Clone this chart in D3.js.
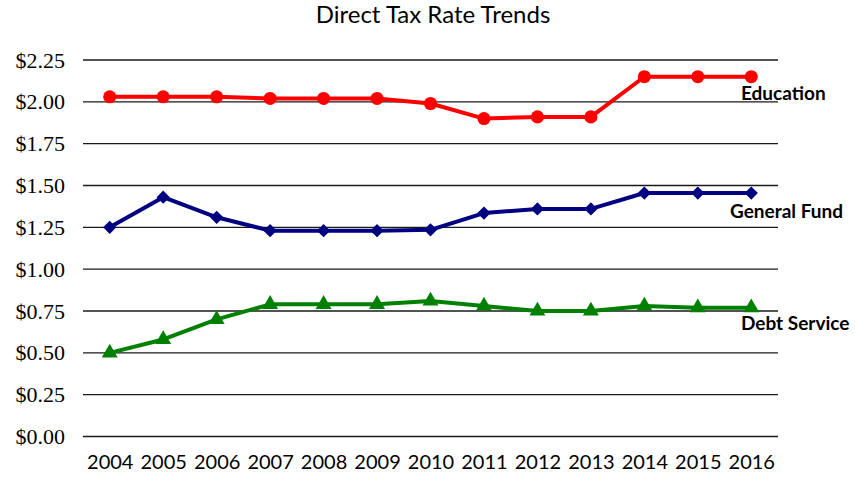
<!DOCTYPE html>
<html>
<head>
<meta charset="utf-8">
<script src="https://cdn.jsdelivr.net/npm/d3@7/dist/d3.min.js"></script>
<style>
  html, body { margin: 0; padding: 0; background: #fff; }
  svg { display: block; }
</style>
</head>
<body>
<svg id="chart" width="855" height="479"></svg>
<script>
// Tax years on the horizontal axis
const years = ["2004","2005","2006","2007","2008","2009","2010","2011","2012","2013","2014","2015","2016"];

// Rates per $100 of assessed value, by fund
const education   = [2.03, 2.03, 2.03, 2.02, 2.02, 2.02, 1.99, 1.90, 1.91, 1.91, 2.15, 2.15, 2.15];
const generalFund = [1.25, 1.43, 1.31, 1.23, 1.23, 1.23, 1.235, 1.335, 1.36, 1.36, 1.455, 1.455, 1.455];
const debtService = [0.50, 0.58, 0.70, 0.79, 0.79, 0.79, 0.81, 0.78, 0.75, 0.75, 0.78, 0.77, 0.77];

// Vertical tick values
const yTicks = [0, 0.25, 0.5, 0.75, 1.0, 1.25, 1.5, 1.75, 2.0, 2.25];

const seriesNames = ["Education", "General Fund", "Debt Service"];

const svg = d3.select("#chart");

const x = d3.scalePoint().domain(years).range([83, 778]).padding(0.5);
const y = d3.scaleLinear().domain([0, 2.25]).range([436.5, 60]);

// Title
svg.append("text")
  .attr("x", 433).attr("y", 23)
  .attr("text-anchor", "middle")
  .style("font-family", "Lato, 'Open Sans', sans-serif")
  .style("font-size", "24px")
  .attr("fill", "#000")
  .text("Direct Tax Rate Trends");

// Horizontal gridlines
svg.append("g").selectAll("line")
  .data(yTicks).join("line")
  .attr("x1", 83).attr("x2", 778)
  .attr("y1", d => y(d)).attr("y2", d => y(d))
  .attr("stroke", "#1a1a1a").attr("stroke-width", 1.3);

// Y axis labels
const yAxis = d3.axisLeft(y).tickValues(yTicks).tickSize(0).tickPadding(0)
  .tickFormat(d => "$" + d3.format(".2f")(d));
svg.append("g")
  .attr("transform", "translate(65,0)")
  .call(yAxis)
  .call(g => g.select(".domain").remove())
  .call(g => g.selectAll("text")
    .style("font-family", "'Liberation Serif', 'Times New Roman', serif")
    .style("font-size", "22px")
    .attr("fill", "#000"));

// X axis labels
const xAxis = d3.axisBottom(x).tickSize(0).tickPadding(0);
svg.append("g")
  .attr("transform", "translate(0,455)")
  .call(xAxis)
  .call(g => g.select(".domain").remove())
  .call(g => g.selectAll("text")
    .style("font-family", "Lato, 'Open Sans', sans-serif")
    .style("font-size", "20px")
    .attr("fill", "#000"));

const line = d3.line().x((d, i) => x(years[i])).y(d => y(d));

function drawSeries(values, color, symbolType, size, rotate) {
  const g = svg.append("g");
  g.append("path")
    .datum(values)
    .attr("d", line)
    .attr("fill", "none")
    .attr("stroke", color)
    .attr("stroke-width", 4)
    .attr("stroke-linejoin", "round");
  const sym = d3.symbol().type(symbolType).size(size);
  g.selectAll("path.m")
    .data(values).join("path")
    .attr("class", "m")
    .attr("transform", (d, i) => `translate(${x(years[i])},${y(d)}) rotate(${rotate})`)
    .attr("d", sym)
    .attr("fill", color);
}

drawSeries(education, "#ff0000", d3.symbolCircle, 135, 0);
drawSeries(generalFund, "#000080", d3.symbolSquare, 88, 45);
drawSeries(debtService, "#008000", d3.symbolTriangle, 110, 0);

// Series labels at right
const labelPos = [
  { name: seriesNames[0], x: 741, y: 100 },
  { name: seriesNames[1], x: 730, y: 218 },
  { name: seriesNames[2], x: 741, y: 330 }
];
svg.append("g").selectAll("text")
  .data(labelPos).join("text")
  .attr("x", d => d.x).attr("y", d => d.y)
  .style("font-family", "Lato, 'Open Sans', sans-serif")
  .style("font-size", "19px")
  .style("font-weight", "bold")
  .attr("fill", "#000")
  .text(d => d.name);
</script>
</body>
</html>
